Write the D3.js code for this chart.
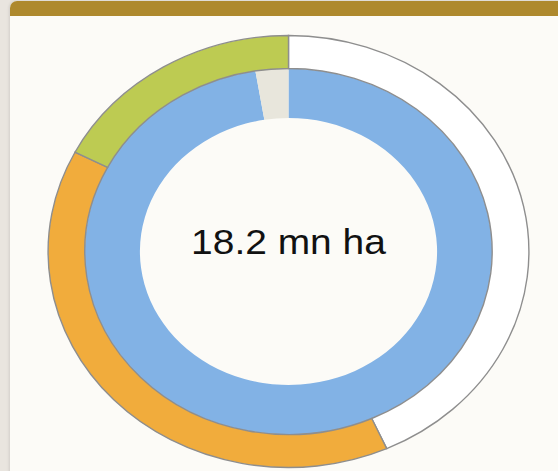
<!DOCTYPE html>
<html>
<head>
<meta charset="utf-8">
<script src="https://cdn.jsdelivr.net/npm/d3@7"></script>
<style>
  html, body { margin: 0; padding: 0; }
  body { width: 558px; height: 471px; background: #e9e5df; overflow: hidden; position: relative; }
  #card {
    position: absolute; left: 10px; top: 1px; width: 600px; height: 520px;
    background: #fcfbf7; border-radius: 7px; overflow: hidden;
    box-shadow: -1px 0 3px rgba(0,0,0,0.10);
  }
  #bar { height: 15px; background: #ae892e; }
  #chart { position: absolute; left: 0; top: 0; }
</style>
</head>
<body>
<div id="card"><div id="bar"></div></div>
<svg id="chart" width="558" height="471"></svg>
<script>
// outer ring: share of the area (clockwise from 12 o'clock)
const outerNames = ["Other", "Category A", "Category B"];
const outerValues = [43.3, 39.3, 17.4];
const outerColors = ["#ffffff", "#f1ac3c", "#bdcb52"];

// inner ring
const innerNames = ["Main", "Rest"];
const innerValues = [97.4, 2.6];
const innerColors = ["#82b2e5", "#e8e6dc"];

const centerLabel = "18.2 mn ha";

const cx = 288.5, cy = 251.5;
const stretch = 1.113;
const rOuter = 216, rMid = 183, rInner = 133.5;

const svg = d3.select("#chart");

const g = svg.append("g")
    .attr("transform", "translate(" + cx + "," + cy + ") scale(" + stretch + ",1)");

const pie = d3.pie().sort(null);

// Inner ring, no outline
const innerArc = d3.arc().innerRadius(rInner).outerRadius(rMid);
g.selectAll("path.inner")
    .data(pie(innerValues))
    .enter()
    .append("path")
    .attr("class", "inner")
    .attr("d", innerArc)
    .attr("fill", (d, i) => innerColors[i]);

// Outer ring with gray outline
const outerArc = d3.arc().innerRadius(rMid).outerRadius(rOuter);
g.selectAll("path.outer")
    .data(pie(outerValues))
    .enter()
    .append("path")
    .attr("class", "outer")
    .attr("d", outerArc)
    .attr("fill", (d, i) => outerColors[i])
    .attr("stroke", "#8e8e8e")
    .attr("stroke-width", 1.4)
    .attr("vector-effect", "non-scaling-stroke");

g.append("text")
    .attr("x", 0)
    .attr("y", 2)
    .attr("text-anchor", "middle")
    .attr("font-family", "'Liberation Sans', Arial, Helvetica, sans-serif")
    .attr("font-size", 35)
    .attr("fill", "#111")
    .text(centerLabel);
</script>
</body>
</html>
